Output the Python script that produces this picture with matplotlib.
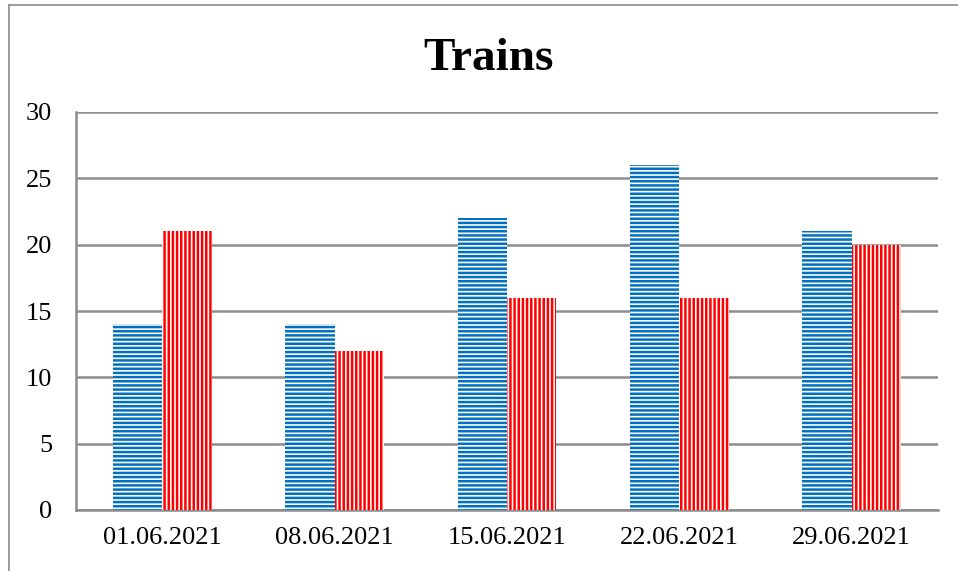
import matplotlib.pyplot as plt
from matplotlib.lines import Line2D
import numpy as np

# data
dates = ["01.06.2021", "08.06.2021", "15.06.2021", "22.06.2021", "29.06.2021"]
blue_vals = [14, 14, 22, 26, 21]
red_vals = [21, 12, 16, 16, 20]
yticks = [0, 5, 10, 15, 20, 25, 30]

plt.rcParams['font.family'] = ['Liberation Serif', 'DejaVu Serif']
plt.rcParams['hatch.linewidth'] = 1.8

fig = plt.figure(figsize=(9.58, 5.71), dpi=100)
ax = fig.add_axes([76/958, 1-510/571, (938-76)/958, (510-112)/571])

x = np.arange(len(dates))
w = 0.287
ax.bar(x - w/2, blue_vals, w, facecolor='white', edgecolor='#0070C0',
       hatch='----', linewidth=0, zorder=3)
ax.bar(x + w/2, red_vals, w, facecolor='white', edgecolor='#FF0000',
       hatch='||||', linewidth=0, zorder=3)

ax.set_xlim(-0.5, len(dates) - 0.5)
ax.set_ylim(0, 30)
ax.set_yticks(yticks)
ax.set_xticks(x)
ax.set_xticklabels(dates)
ax.tick_params(axis='both', length=0, labelsize=19)
ax.tick_params(axis='y', pad=17)
ax.tick_params(axis='x', pad=12)
ax.grid(axis='y', color='#8c8c8c', linewidth=1.8, zorder=0)
for s in ['top', 'right']:
    ax.spines[s].set_visible(False)
for s in ['left', 'bottom']:
    ax.spines[s].set_color('#8c8c8c')
    ax.spines[s].set_linewidth(1.8)

fig.text(488/958, 1-70/571, "Trains", fontsize=34, fontweight='bold',
         ha='center', va='baseline')

# outer chart border (cut off at right and bottom)
fig.add_artist(Line2D([8.5/958, 8.5/958], [0, 1-4.5/571], color='#8c8c8c', lw=1.2))
fig.add_artist(Line2D([8.5/958, 1], [1-4.5/571, 1-4.5/571], color='#8c8c8c', lw=1.2))

fig.savefig("out.png", dpi=100)
